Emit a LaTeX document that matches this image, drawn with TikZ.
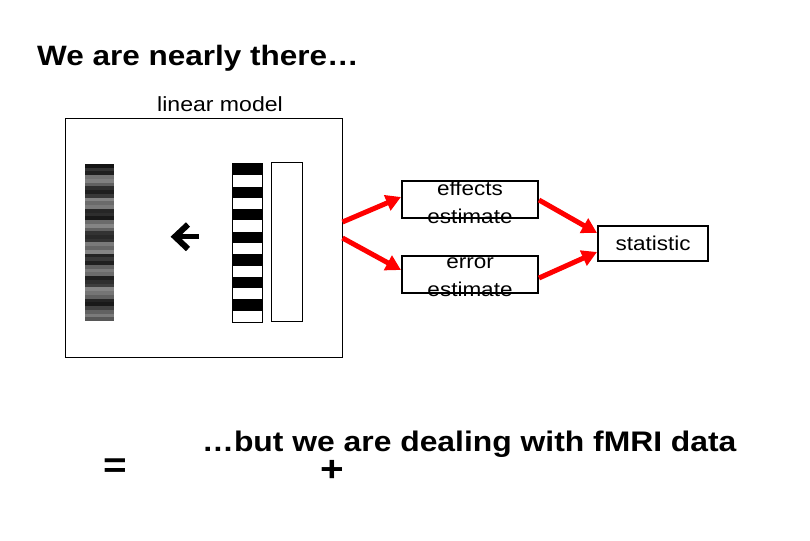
\documentclass[tikz,border=0pt]{standalone}
\usepackage{fontspec}
\setmainfont{Liberation Sans}[FakeStretch=1.125]
\usetikzlibrary{arrows.meta}
\begin{document}
\begin{tikzpicture}[x=1pt,y=-1pt,
  txt/.style={inner sep=0pt, anchor=base west},
  bigbold/.style={font=\fontsize{28}{34}\selectfont\bfseries},
  symbold/.style={font=\fontsize{36}{40}\selectfont\bfseries, inner sep=0pt},
  est/.style={draw, line width=2pt, minimum width=136pt, minimum height=37pt, inner sep=0pt},
  esttxt/.style={font=\fontsize{20}{28}\selectfont, align=center, inner sep=0pt},
  redarr/.style={draw=red, line width=5pt, -{Triangle[length=15pt,width=16pt,fill=red]}},
  thinbox/.style={draw, line width=1pt, inner sep=0pt}]
\useasboundingbox[fill=white] (0,0) rectangle (810,540);

\node[txt, bigbold] (title) at (37,66) {We are nearly there…};
\node[txt, font=\fontsize{20.5}{24}\selectfont] (lmlabel) at (157,112) {linear model};

% linear model frame
\node[thinbox, minimum width=277pt, minimum height=238pt] (lm) at (203.5,238) {};

% data column
\foreach \g [count=\i from 0] in {92,80,88, 55,50,62, 82,88,78, 48,58,52, 85,82,90, 58,48,62, 80,84,80, 52,60,48, 86,78,88, 62,52,58, 88,82,76, 48,54,62, 86,90,74, 62,52,66}
  \fill[black!\g] (85,{164+\i*3.738}) rectangle (114,{164+(\i+1)*3.738});

% design matrix
\foreach \i in {0,...,6}
  \fill (232,{164+2*\i*11.286}) rectangle (262,{164+(2*\i+1)*11.286});
\node[thinbox, minimum width=30pt, minimum height=158pt] (X) at (247,243) {};
\node[thinbox, minimum width=31pt, minimum height=158pt] (C) at (286.5,242) {};

% black arrow
\draw[line width=5pt] (199,236.7) -- (178,236.7);
\draw[line width=6pt, line join=miter, miter limit=10] (188,224.5) -- (175,236.7) -- (188,249);

% estimate boxes
\node[est] (eff) at (470,199) {};
\node[esttxt] (efftxt) at (470,202) {effects\\estimate};
\node[est] (err) at (470,274.5) {};
\node[esttxt] (errtxt) at (470,277) {error\\estimate};
\node[est, minimum width=110pt, minimum height=35pt, font=\fontsize{20}{24}\selectfont] (stat) at (653,243.5) {statistic};

% red arrows
\draw[redarr] ([yshift=16pt]lm.east) -- ([yshift=2pt]eff.west);
\draw[redarr] (lm.east) -- ([yshift=4.5pt]err.west);
\draw[redarr] ([yshift=-1pt]eff.east) -- ([yshift=10.5pt]stat.west);
\draw[redarr] ([yshift=-3.5pt]err.east) -- ([yshift=-8.5pt]stat.west);

% bottom
\node[txt, font=\fontsize{28.3}{34}\selectfont\bfseries] (but) at (202,451) {…but we are dealing with fMRI data};
\node[symbold] (eq) at (115,468) {=};
\node[symbold] (plus) at (332.5,470.5) {+};
\end{tikzpicture}
\end{document}
